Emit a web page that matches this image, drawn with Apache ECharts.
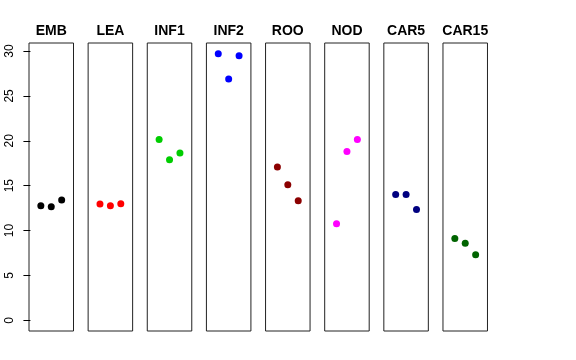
<!DOCTYPE html>
<html><head><meta charset="utf-8">
<script src="https://cdn.jsdelivr.net/npm/echarts@6/dist/echarts.min.js"></script>
<style>html,body{margin:0;padding:0;background:#fff}#c{width:576px;height:360px}</style>
</head><body><div id="c"></div>
<script>
const categories = ['EMB','LEA','INF1','INF2','ROO','NOD','CAR5','CAR15'];
const colors = ['#000000','#FF0000','#00CD00','#0000FF','#8B0000','#FF00FF','#000080','#006400'];
const EMB = [12.77, 12.65, 13.40];
const LEA = [12.95, 12.77, 12.99];
const INF1 = [20.16, 17.89, 18.64];
const INF2 = [29.70, 26.90, 29.48];
const ROO = [17.08, 15.10, 13.33];
const NOD = [10.76, 18.82, 20.16];
const CAR5 = [14.03, 14.03, 12.36];
const CAR15 = [9.13, 8.58, 7.31];
const seriesValues = [EMB, LEA, INF1, INF2, ROO, NOD, CAR5, CAR15];
const yTicks = [0, 5, 10, 15, 20, 25, 30];

const font = 'Liberation Sans, Arial, Helvetica, sans-serif';
const grids = [], xAxes = [], yAxes = [], series = [];
categories.forEach((name, i) => {
  grids.push({left: 29 + i * 59.14, top: 43, width: 44.5, height: 288,
    show: true, borderColor: '#222', borderWidth: 1, backgroundColor: 'transparent'});
  xAxes.push({type: 'value', gridIndex: i, min: -0.137, max: 4.137, position: 'top',
    name: name, nameLocation: 'middle', nameGap: 5,
    nameTextStyle: {fontFamily: font, fontWeight: 'bold', fontSize: 14, color: '#000'},
    axisLine: {show: false}, axisTick: {show: false}, axisLabel: {show: false}, splitLine: {show: false}});
  const first = i === 0;
  yAxes.push({type: 'value', gridIndex: i, min: -1.19, max: 30.9,
    axisLine: {show: false},
    axisTick: {show: first, inside: false, length: 7, customValues: yTicks, lineStyle: {color: '#000', width: 1}},
    axisLabel: {show: first, rotate: 90, margin: 13, customValues: yTicks,
      fontFamily: font, fontSize: 12, color: '#000'},
    splitLine: {show: false}});
  series.push({type: 'scatter', xAxisIndex: i, yAxisIndex: i, symbol: 'circle', symbolSize: 7,
    itemStyle: {color: colors[i], opacity: 1},
    data: seriesValues[i].map((v, j) => [j + 1, v])});
});

const chart = echarts.init(document.getElementById('c'), null, {renderer: 'canvas'});
chart.setOption({animation: false, backgroundColor: '#fff', grid: grids, xAxis: xAxes, yAxis: yAxes, series: series});
</script></body></html>
